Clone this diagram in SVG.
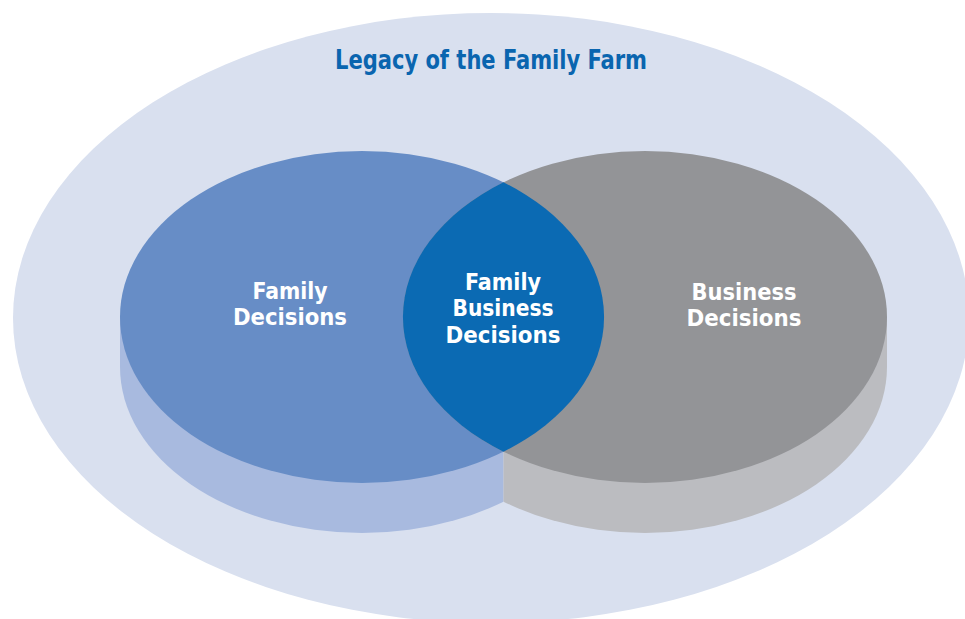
<svg xmlns="http://www.w3.org/2000/svg" width="965" height="619" viewBox="0 0 965 619">
  <style>
    .lbl { font-family: "Liberation Sans Narrow", "DejaVu Sans Condensed", "Liberation Sans", sans-serif; font-weight: bold; font-size: 23.5px; fill: #ffffff; text-anchor: middle; }
    .title { font-family: "Liberation Sans Narrow", "DejaVu Sans Condensed", "Liberation Sans", sans-serif; font-weight: bold; font-size: 26px; fill: #0a65af; text-anchor: middle; }
  </style>
  <defs>
    <clipPath id="clipL"><rect x="0" y="0" width="503.5" height="619"/></clipPath>
    <clipPath id="clipR"><rect x="503.5" y="0" width="461.5" height="619"/></clipPath>
  </defs>

  <g id="legacy">
    <ellipse cx="491" cy="318" rx="478" ry="305" fill="#d9e0ef"/>
    <text class="title" x="491" y="69" textLength="312" lengthAdjust="spacingAndGlyphs">Legacy of the Family Farm</text>
  </g>

  <g id="family-decisions">
    <path d="M120,317 L120,367 A242,166 0 0 0 604,367 L604,317 Z" fill="#a8badf" clip-path="url(#clipL)"/>
    <ellipse cx="362" cy="317" rx="242" ry="166" fill="#678dc6"/>
  </g>

  <g id="business-decisions">
    <path d="M403,317 L403,367 A242,166 0 0 0 887,367 L887,317 Z" fill="#bbbcc0" clip-path="url(#clipR)"/>
    <ellipse cx="645" cy="317" rx="242" ry="166" fill="#939497"/>
  </g>

  <g id="family-business-decisions">
    <path d="M503.5,182.3 A242,166 0 0 1 503.5,451.7 A242,166 0 0 1 503.5,182.3 Z" fill="#0b6ab3"/>
  </g>

  <g id="labels">
    <text class="lbl" x="290" y="298.7"><tspan x="290" y="298.7" textLength="75" lengthAdjust="spacingAndGlyphs">Family</tspan><tspan x="290" y="325.2" textLength="114" lengthAdjust="spacingAndGlyphs">Decisions</tspan></text>
    <text class="lbl" x="503" y="289.5"><tspan x="503" y="289.5" textLength="76" lengthAdjust="spacingAndGlyphs">Family</tspan><tspan x="503" y="316" textLength="101" lengthAdjust="spacingAndGlyphs">Business</tspan><tspan x="503" y="342.5" textLength="115" lengthAdjust="spacingAndGlyphs">Decisions</tspan></text>
    <text class="lbl" x="744" y="299.7"><tspan x="744" y="299.7" textLength="105" lengthAdjust="spacingAndGlyphs">Business</tspan><tspan x="744" y="326.2" textLength="115" lengthAdjust="spacingAndGlyphs">Decisions</tspan></text>
  </g>
</svg>
